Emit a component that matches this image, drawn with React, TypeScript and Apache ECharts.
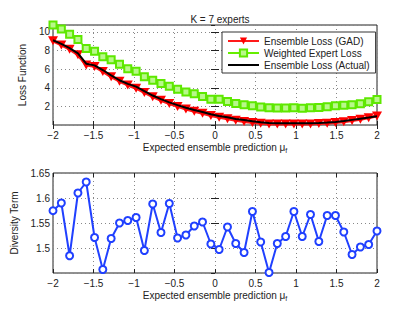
import React, { useEffect, useRef } from "react";
import * as echarts from "echarts";

const X_VALUES = [
  -2, -1.897, -1.795, -1.692, -1.59, -1.487, -1.385, -1.282, -1.179, -1.077,
  -0.974, -0.872, -0.769, -0.667, -0.564, -0.462, -0.359, -0.256, -0.154, -0.051,
  0.051, 0.154, 0.256, 0.359, 0.462, 0.564, 0.667, 0.769, 0.872, 0.974,
  1.077, 1.179, 1.282, 1.385, 1.487, 1.59, 1.692, 1.795, 1.897, 2,
];

const GAD_LOSS = [
  9.05, 8.6, 8.15, 7.55, 6.45, 6.3, 5.75, 5.2, 4.7, 4.3,
  3.95, 3.5, 3.05, 2.65, 2.3, 2.0, 1.72, 1.48, 1.25, 1.02,
  0.82, 0.66, 0.5, 0.38, 0.27, 0.18, 0.12, 0.1, 0.1, 0.1,
  0.1, 0.12, 0.15, 0.2, 0.27, 0.36, 0.48, 0.62, 0.78, 0.98,
];

const WEIGHTED_EXPERT_LOSS = [
  10.75, 10.32, 9.75, 9.18, 8.22, 7.94, 7.33, 7.01, 6.52, 6.05,
  5.77, 5.2, 4.81, 4.45, 4.17, 3.85, 3.56, 3.35, 3.07, 2.78,
  2.78, 2.53, 2.32, 2.18, 2.07, 1.93, 1.86, 1.82, 1.82, 1.86,
  1.79, 1.86, 1.89, 1.96, 2.07, 2.11, 2.18, 2.28, 2.5, 2.75,
];

const ACTUAL_LOSS = [
  9.11, 8.72, 8.26, 7.69, 6.59, 6.41, 5.91, 5.34, 4.81, 4.42,
  4.13, 3.64, 3.17, 2.78, 2.43, 2.14, 1.86, 1.61, 1.4, 1.15,
  0.97, 0.83, 0.65, 0.54, 0.4, 0.29, 0.22, 0.19, 0.19, 0.19,
  0.19, 0.19, 0.22, 0.26, 0.33, 0.42, 0.55, 0.68, 0.8, 0.93,
];

const DIVERSITY = [
  1.5746, 1.59, 1.4845, 1.61, 1.632, 1.521, 1.457, 1.519, 1.55, 1.555,
  1.561, 1.495, 1.588, 1.531, 1.589, 1.52, 1.526, 1.544, 1.552, 1.508,
  1.497, 1.542, 1.509, 1.491, 1.573, 1.512, 1.451, 1.509, 1.523, 1.573,
  1.523, 1.567, 1.513, 1.565, 1.565, 1.532, 1.487, 1.502, 1.507, 1.534,
];

const TITLE = "K = 7 experts";
const X_LABEL = "Expected ensemble prediction μ{sub|f}";
const Y_LABEL_TOP = "Loss Function";
const Y_LABEL_BOTTOM = "Diversity Term";
const LEGEND_NAMES = ["Ensemble Loss (GAD)", "Weighted Expert Loss", "Ensemble Loss (Actual)"];

const FONT = "'Liberation Sans', Arial, Helvetica, sans-serif";
const TEXT_COLOR = "#222";

const pair = (ys: number[]) => X_VALUES.map((x, i) => [x, ys[i]]);
const fmt = (v: number) => String(Math.round(v * 1000) / 1000).replace("-", "\u2212");

export default function App() {
  const ref = useRef<HTMLDivElement>(null);
  useEffect(() => {
    if (!ref.current) return;
    const chart = echarts.init(ref.current, undefined, { renderer: "svg" });

    const xAxisBase = (gridIndex: number) => ({
      gridIndex,
      type: "value",
      min: -2,
      max: 2,
      interval: 0.5,
      axisLine: { show: false },
      axisTick: { show: true, inside: true, length: 4, lineStyle: { color: "#222" } },
      axisLabel: { show: true, fontSize: 10, color: TEXT_COLOR, margin: 5, formatter: fmt, fontFamily: FONT },
      splitLine: { show: true, lineStyle: { type: [1, 3], color: "#888", width: 1 } },
      name: X_LABEL,
      nameLocation: "middle",
      nameGap: 16,
      nameTextStyle: {
        fontSize: 10,
        color: TEXT_COLOR,
        fontFamily: FONT,
        rich: { sub: { fontSize: 7, verticalAlign: "bottom", padding: [6, 0, 0, 0], color: TEXT_COLOR } },
      },
    });
    const xAxisMirror = (gridIndex: number) => ({
      gridIndex,
      type: "value",
      position: "top",
      min: -2,
      max: 2,
      interval: 0.5,
      axisLine: { show: false },
      axisTick: { show: true, inside: true, length: 4, lineStyle: { color: "#222" } },
      axisLabel: { show: false },
      splitLine: { show: false },
    });

    const option: any = {
      animation: false,
      textStyle: { fontFamily: FONT },
      title: {
        text: TITLE,
        left: 215,
        top: 9,
        textAlign: "center",
        textStyle: { fontSize: 10, fontWeight: "normal", color: TEXT_COLOR, fontFamily: FONT },
      },
      legend: {
        orient: "vertical",
        left: 222,
        top: 32,
        padding: [4, 6, 3, 5],
        itemGap: 2,
        itemWidth: 31,
        itemHeight: 9,
        backgroundColor: "#fff",
        borderColor: "#333",
        borderWidth: 1,
        textStyle: { fontSize: 10, color: TEXT_COLOR, fontFamily: FONT },
        data: [
          { name: LEGEND_NAMES[0] },
          { name: LEGEND_NAMES[1] },
          { name: LEGEND_NAMES[2], itemStyle: { opacity: 0 } },
        ],
      },
      grid: [
        { left: 53, top: 25, width: 324, height: 100, show: true, borderColor: "#222", borderWidth: 1, backgroundColor: "#fff" },
        { left: 53, top: 173, width: 324, height: 100, show: true, borderColor: "#222", borderWidth: 1, backgroundColor: "#fff" },
      ],
      xAxis: [xAxisBase(0), xAxisBase(1), xAxisMirror(0), xAxisMirror(1)],
      yAxis: [
        {
          gridIndex: 0,
          type: "value",
          min: 0,
          max: 10.75,
          interval: 2,
          axisLine: { show: false },
          axisTick: { show: true, inside: true, length: 4, lineStyle: { color: "#222" } },
          axisLabel: {
            fontSize: 10,
            color: TEXT_COLOR,
            margin: 3,
            showMinLabel: false,
            showMaxLabel: false,
            formatter: (v: number) => (Math.abs(v % 2) < 1e-9 && v > 0 ? fmt(v) : ""),
          },
          splitLine: { show: true, lineStyle: { type: [1, 3], color: "#888", width: 1 } },
          name: Y_LABEL_TOP,
          nameLocation: "middle",
          nameGap: 18,
          nameTextStyle: { fontSize: 10, color: TEXT_COLOR, fontFamily: FONT },
        },
        {
          gridIndex: 1,
          type: "value",
          min: 1.45,
          max: 1.65,
          interval: 0.05,
          axisLine: { show: false },
          axisTick: { show: true, inside: true, length: 4, lineStyle: { color: "#222" } },
          axisLabel: { fontSize: 10, color: TEXT_COLOR, margin: 3, showMinLabel: false, formatter: fmt },
          splitLine: { show: true, lineStyle: { type: [1, 3], color: "#888", width: 1 } },
          name: Y_LABEL_BOTTOM,
          nameLocation: "middle",
          nameGap: 26,
          nameTextStyle: { fontSize: 10, color: TEXT_COLOR, fontFamily: FONT },
        },
        {
          gridIndex: 0,
          type: "value",
          position: "right",
          min: 0,
          max: 10.75,
          interval: 2,
          axisLine: { show: false },
          axisTick: { show: true, inside: true, length: 4, lineStyle: { color: "#222" } },
          axisLabel: { show: false },
          splitLine: { show: false },
        },
        {
          gridIndex: 1,
          type: "value",
          position: "right",
          min: 1.45,
          max: 1.65,
          interval: 0.05,
          axisLine: { show: false },
          axisTick: { show: true, inside: true, length: 4, lineStyle: { color: "#222" } },
          axisLabel: { show: false },
          splitLine: { show: false },
        },
      ],
      series: [
        {
          name: LEGEND_NAMES[0],
          type: "line",
          xAxisIndex: 0,
          yAxisIndex: 0,
          data: pair(GAD_LOSS),
          color: "#ff0000",
          lineStyle: { color: "#ff1a1a", width: 3 },
          symbol: "triangle",
          symbolRotate: 180,
          symbolSize: [10, 9],
          itemStyle: { color: "#ff0000" },
          showAllSymbol: true,
          clip: false,
          z: 2,
        },
        {
          name: LEGEND_NAMES[1],
          type: "line",
          xAxisIndex: 0,
          yAxisIndex: 0,
          data: pair(WEIGHTED_EXPERT_LOSS),
          color: "#66ee00",
          lineStyle: { color: "#66ee00", width: 1.5 },
          symbol: "rect",
          symbolSize: 7,
          itemStyle: { color: "#b8f88a", borderColor: "#5ee800", borderWidth: 2 },
          showAllSymbol: true,
          clip: false,
          z: 3,
        },
        {
          name: LEGEND_NAMES[2],
          type: "line",
          xAxisIndex: 0,
          yAxisIndex: 0,
          data: pair(ACTUAL_LOSS),
          color: "#000",
          lineStyle: { color: "#000", width: 2 },
          symbol: "none",
          showSymbol: false,
          clip: false,
          z: 4,
        },
        {
          name: "Diversity",
          type: "line",
          xAxisIndex: 1,
          yAxisIndex: 1,
          data: pair(DIVERSITY),
          color: "#2040ff",
          lineStyle: { color: "#2040ff", width: 2 },
          symbol: "emptyCircle",
          symbolSize: 7,
          itemStyle: { color: "#2040ff", borderColor: "#2040ff", borderWidth: 2 },
          showAllSymbol: true,
          clip: false,
          z: 3,
        },
      ],
    };
    chart.setOption(option);
    return () => chart.dispose();
  }, []);

  return (
    <div
      ref={ref}
      style={{ position: "fixed", left: 0, top: 0, width: 415, height: 312, background: "#fff" }}
    />
  );
}
